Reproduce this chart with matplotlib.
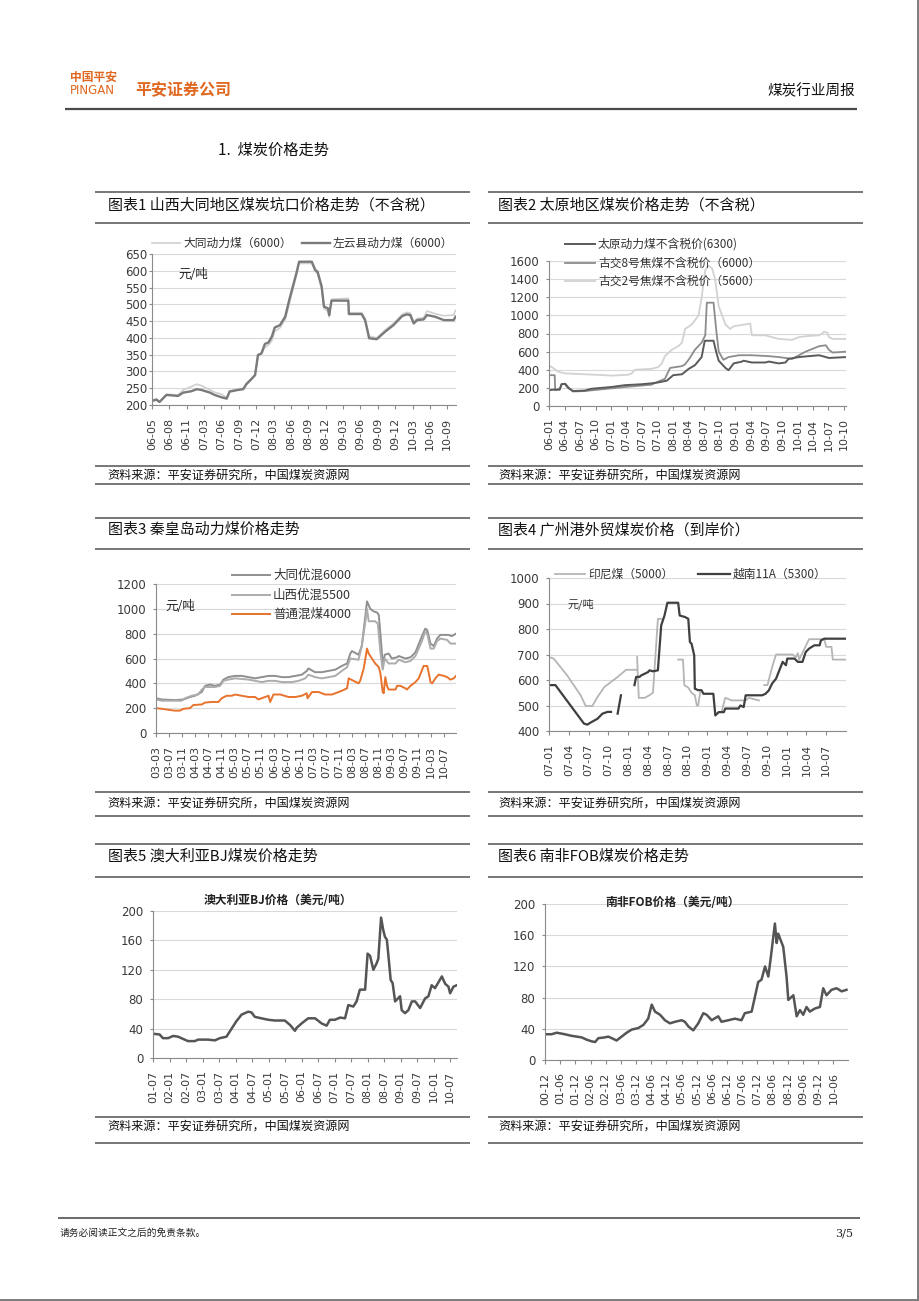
import numpy as np
import matplotlib
matplotlib.use("Agg")
import matplotlib.pyplot as plt

plt.rcParams['font.family'] = ['Noto Sans CJK SC', 'DejaVu Sans']

W, H = 920, 1301
ORANGE = '#e0671f'
RULE = '#5a5a5a'
AXC = '#8a8a8a'
TICKC = '#3a3a3a'

# ---------------- data (x = months from first tick) ----------------
# 图表1 山西大同
c1_x = [0, 0.75, 1.3, 2.5, 4.5, 5.4, 6.8, 7.7, 8.5, 10, 10.8, 12, 12.9, 13.4, 14.9, 15.75,
        16.3, 17.1, 17.8, 18.3, 18.9, 19.5, 20.1, 20.7, 21.2, 22.1, 23, 23.7, 24.4, 25, 25.4,
        27.6, 28.2, 28.6, 29.3, 29.7, 30.4, 30.6, 31, 33.9, 34, 36.2, 36.8, 37.5, 38.8, 40.3,
        41.7, 43.2, 44, 44.6, 45.2, 45.8, 46.9, 47.5, 48.9, 50.4, 52.1, 52.4]
c1_zuoyun = [212, 216, 209, 230, 227, 237, 241, 247, 245, 237, 230, 223, 219, 240, 245, 247,
             262, 276, 289, 349, 354, 382, 386, 404, 431, 438, 463, 513, 558, 597, 627,
             627, 602, 597, 553, 493, 488, 468, 511, 511, 471, 471, 453, 399, 396, 419,
             438, 465, 470, 468, 443, 453, 455, 468, 463, 453, 453, 463]
c1_datong = [214, 218, 210, 232, 230, 245, 255, 262, 258, 245, 238, 232, 222, 242, 248, 250,
             265, 276, 290, 345, 352, 372, 378, 392, 420, 430, 455, 500, 550, 590, 622,
             622, 598, 590, 545, 488, 478, 462, 515, 518, 475, 475, 458, 405, 400, 424,
             443, 470, 476, 474, 448, 458, 460, 480, 472, 466, 468, 482]
c1_ticks = ['06-05', '06-08', '06-11', '07-03', '07-06', '07-09', '07-12', '08-03', '08-06',
            '08-09', '08-12', '09-03', '09-06', '09-09', '09-12', '10-03', '10-06', '10-09']

# 图表2 太原
c2_dark_x = [0, 0.78, 2.07, 2.4, 3.04, 3.7, 4.65, 6.9, 8.2, 12.1, 14.7, 17.9, 19.8, 21.1, 22.8,
             24, 25.7, 27, 28.2, 29.5, 30.1, 31.8, 32.3, 32.8, 34.1, 34.7, 35.7, 37.3, 37.6,
             39.2, 41.8, 42.5, 44.4, 45.7, 46.3, 48.3, 50.2, 52.2, 53.5, 54.1, 57.5]
c2_taiyuan = [175, 180, 180, 240, 245, 200, 165, 170, 190, 210, 230, 240, 250, 260, 280,
              340, 350, 410, 450, 540, 720, 720, 600, 500, 420, 395, 470, 490, 500,
              480, 480, 490, 470, 480, 520, 540, 550, 560, 540, 530, 540]
c2_mid_x = [0, 1.1, 1.2, 2.07, 2.5, 3.2, 4, 4.65, 6.9, 12.1, 14.7, 19.8, 21.1, 22.4, 23.4,
            25.7, 26.3, 27.1, 28.2, 29.5, 30.2, 30.5, 31.8, 32.3, 32.8, 33.7, 34.7, 36.7,
            39.2, 42.5, 44.4, 45.7, 47, 48.3, 49.6, 50.9, 52.2, 53.5, 54.1, 54.8, 57.5]
c2_gujiao8 = [340, 340, 175, 190, 240, 245, 190, 160, 165, 195, 210, 235, 270, 300, 420,
              440, 460, 520, 620, 700, 780, 1140, 1140, 850, 600, 510, 540, 560,
              560, 550, 540, 530, 520, 560, 600, 630, 660, 670, 620, 590, 600]
c2_light_x = [0, 0.3, 1.75, 3.04, 6.9, 10.8, 12.1, 15.3, 16, 16.6, 19.8, 21.1, 21.8, 22.4,
              23.7, 25, 25.7, 26.3, 27.6, 28.9, 29.5, 30.2, 30.8, 31.5, 32.1, 32.8, 34.1,
              35, 35.7, 37.9, 38.9, 39.2, 41.8, 43.1, 44.4, 47, 48.3, 49.6, 52.2, 52.8,
              53.1, 53.8, 54.1, 54.8, 57.5]
c2_gujiao2 = [420, 440, 380, 360, 350, 340, 335, 345, 360, 400, 410, 430, 470, 550,
              620, 660, 700, 850, 900, 1000, 1200, 1500, 1550, 1520, 1400, 1100, 900,
              850, 880, 900, 910, 780, 780, 760, 740, 730, 760, 770, 780, 800,
              820, 810, 760, 740, 740]
c2_ticks = ['06-01', '06-04', '06-07', '06-10', '07-01', '07-04', '07-07', '07-10', '08-01',
            '08-04', '08-07', '08-10', '09-01', '09-04', '09-07', '09-10', '10-01', '10-04',
            '10-07', '10-10']

# 图表3 秦皇岛
c3_or_x = [0, 1.7, 4.3, 5.8, 7.3, 8.4, 10.4, 11.4, 14, 15, 17, 19.1, 19.6, 20.1, 21.6, 23.2,
           24.2, 26.2, 28.3, 30.3, 31.3, 32.3, 34.4, 34.9, 35.9, 38, 40.5, 42.6, 44.6, 46.1,
           46.3, 47.7, 49.7, 51.7, 53.8, 54.8, 56.8, 58.4, 58.9, 60.4, 61.9, 62.4, 63.5, 64.5,
           65, 66, 67, 68.1, 68.6, 69.3, 69.6, 70.1, 70.6, 71.1, 73.2, 73.7, 74.7, 76.2, 76.7,
           77.8, 79.3, 80.3, 81.8, 82.9, 83.4, 83.9, 84.4, 85.4, 86.4, 88, 89, 90, 91, 91.7]
c3_putong = [200, 195, 185, 180, 180, 195, 200, 225, 230, 245, 250, 250, 265, 280, 300, 300,
             310, 300, 290, 290, 270, 280, 300, 250, 310, 310, 290, 290, 300, 320,
             280, 330, 330, 310, 310, 320, 340, 360, 440, 420, 400, 420, 520, 680,
             640, 600, 560, 530, 480, 330, 320, 450, 380, 350, 350, 380, 380, 360, 350,
             380, 410, 440, 540, 540, 480, 410, 400, 440, 470, 460, 450, 430, 440, 460]
c3_g1_x = [0, 1.7, 5.8, 8.4, 10.4, 11.9, 14, 15, 16.5, 18, 19.6, 20.6, 22.1, 24.2, 26.2, 28.3,
           30.3, 32.3, 34.4, 36.4, 38.5, 40.5, 42.6, 44.6, 46.1, 46.6, 48.6, 50.7, 52.7, 54.8,
           56.8, 58.4, 59.4, 59.9, 61.9, 62.9, 63.8, 64.5, 65.5, 66.5, 67.6, 68.1, 68.9, 69.3,
           69.9, 71.1, 72.1, 73.7, 74.2, 76.2, 77.8, 79.3, 81.3, 82.3, 82.9, 83.9, 84.9, 85.9,
           86.9, 89.4, 90.4, 91.7]
c3_datong = [280, 270, 265, 270, 290, 300, 330, 380, 390, 380, 390, 430, 450, 460, 460, 450,
             440, 450, 460, 460, 450, 450, 460, 470, 500, 520, 490, 490, 500, 510,
             540, 560, 640, 660, 630, 700, 900, 1060, 1000, 980, 970, 950, 700, 540,
             630, 640, 600, 610, 620, 600, 610, 650, 780, 840, 830, 720, 700, 760,
             790, 790, 780, 800]
c3_g2_x = [0, 1.7, 7.8, 8.9, 10.9, 12.9, 14, 15, 18, 19.6, 20.6, 22.1, 24.2, 28.3, 30.3, 32.3,
           34.4, 36.4, 38.5, 41.5, 43.6, 45.6, 46.6, 48.6, 50.7, 54.8, 56.8, 58.4, 59.4, 61.9,
           62.9, 63.9, 64.5, 65, 67, 67.8, 68.6, 69.3, 69.9, 71.1, 73.2, 74.2, 76.2, 77.8,
           79.3, 81.3, 82.3, 82.9, 83.9, 84.9, 85.9, 86.9, 89, 90, 91.7]
c3_shanxi = [270, 260, 260, 280, 300, 310, 350, 370, 370, 380, 420, 430, 440, 430, 420, 410,
             420, 420, 410, 410, 420, 440, 470, 450, 440, 460, 500, 530, 600, 590,
             700, 880, 1000, 900, 900, 880, 650, 510, 600, 560, 560, 590, 570, 580,
             620, 740, 820, 800, 680, 680, 740, 760, 750, 720, 720]
c3_ticks = ['03-03', '03-07', '03-11', '04-03', '04-07', '04-11', '05-03', '05-07', '05-11',
            '06-03', '06-07', '06-11', '07-03', '07-07', '07-11', '08-03', '08-07', '08-11',
            '09-03', '09-07', '09-11', '10-03', '10-07']

# 图表4 广州港 (nan = 缺失)
nan = np.nan
c4_in_x = [0, 0.71, 2.75, 4.8, 5.56, 6.57, 7.34, 8.36, 10.4, 11.67, 13.2, 13.25,
           13.35, 13.6, 14.5, 15.2, 15.75, 16.5, 17, 17.1,
           19.57, 20.3, 20.5, 21.1, 21.6, 22.1, 22.4, 22.6, 22.9, 23.0,
           26.2, 26.7, 27.7, 29.8, 30.3, 31.8, 32.0,
           32.6, 33.1, 33.8, 34.4, 36.9, 37.4, 37.7, 37.9, 39.4, 41.7, 42, 42.8, 43, 45.2]
c4_indo = [690, 684, 618, 540, 498, 498, 533, 572, 612, 640, 640, nan,
           690, 530, 530, 540, 550, 840, 840, nan,
           680, 680, 580, 570, 550, 540, 500, 500, 550, nan,
           480, 530, 520, 520, 530, 520, nan,
           580, 580, 650, 700, 700, 690, 705, 680, 760, 760, 730, 730, 680, 680]
c4_vn_x = [0, 0.97, 5.3, 5.8, 6.3, 7.34, 8.1, 8.87, 9.4, 9.5,
           10.4, 10.9, 11.0,
           12.95, 13.2, 13.7, 13.97, 15, 15.24, 15.75, 16.5, 17, 17.5, 17.94, 19.57, 19.8,
           20.6, 21.1, 21.35, 21.6, 22, 22.1, 22.6, 23.1, 23.4, 24.9, 25.2, 25.7, 26.5, 26.7,
           28.7, 29, 29.5, 29.8, 32.3, 32.8, 33.3, 33.8, 34.4, 34.9, 35.4, 35.9, 36.1, 37.2,
           37.7, 38.4, 38.9, 39.4, 40.2, 41, 41.2, 41.7, 45.2]
c4_vietnam = [580, 580, 429, 425, 433, 448, 468, 475, 475, nan,
              468, 540, nan,
              580, 612, 612, 618, 631, 638, 634, 638, 814, 853, 903, 903, 853,
              847, 840, 749, 742, 697, 566, 560, 560, 546, 546, 461, 474, 474, 488,
              488, 500, 494, 540, 540, 546, 559, 586, 605, 638, 671, 658, 684, 684,
              671, 671, 710, 723, 736, 736, 755, 762, 762]
c4_ticks = ['07-01', '07-04', '07-07', '07-10', '08-01', '08-04', '08-07', '08-10', '09-01',
            '09-04', '09-07', '09-10', '10-01', '10-04', '10-07']

# 图表5 澳大利亚BJ
c5_x = [0, 2.4, 3.6, 5.5, 7.3, 9.1, 11.5, 12.7, 15.2, 16.4, 20, 22.5, 24.3, 26.7, 27.9, 29.1,
        30.3, 32.2, 34.6, 35.8, 37, 39.4, 41.9, 44.3, 47.9, 49.8, 51.6, 52.2, 54, 56.4, 58.9,
        61.3, 63.1, 64.3, 66.1, 68, 69.8, 71, 72.8, 74, 75.2, 77.1, 78, 78.9, 80.1, 81.3,
        81.9, 82.9, 83.7, 84.3, 85, 85.6, 86.4, 87.1, 88, 89.8, 90.4, 91.6, 92.8, 94.1, 95.3,
        97.1, 98.9, 100.1, 101.3, 102.5, 105, 106.2, 107.4, 108, 109.2, 110.4]
c5_bj = [33, 32, 27, 27, 30, 29, 25, 23, 23, 25, 25, 24, 27, 29, 36, 43,
         50, 59, 63, 62, 56, 54, 52, 51, 51, 45, 37, 41, 47, 54, 54,
         47, 44, 52, 52, 55, 54, 72, 70, 77, 93, 93, 142, 139, 120, 129,
         135, 191, 174, 165, 161, 138, 106, 102, 77, 84, 65, 61, 65, 77, 77,
         68, 81, 84, 99, 95, 111, 101, 97, 88, 97, 99]
c5_ticks = ['01-07', '02-01', '02-07', '03-01', '03-07', '04-01', '04-07', '05-01', '05-07',
            '06-01', '06-07', '07-01', '07-07', '08-01', '08-07', '09-01', '09-07', '10-01',
            '10-07']

# 图表6 南非FOB
c6_x = [0, 2.6, 4.6, 7.9, 10.5, 14.5, 16.5, 18.4, 19.8, 21.1, 23.7, 25, 26.4, 28.3, 30.3, 32.3,
        34.3, 36.9, 38.9, 40.8, 42.2, 43.5, 45.5, 47.4, 49.4, 51.4, 54, 55.3, 56.7, 58.6,
        60.6, 62.6, 63.9, 65.9, 68.5, 69.8, 72.5, 75.1, 77.7, 79, 81.7, 83, 84.3, 85.6, 87,
        88.3, 89.3, 90.9, 91.6, 92.2, 94.2, 95.5, 96.2, 98.2, 99.5, 100.8, 102.1, 103.4,
        104.7, 106.7, 108.7, 110, 111.3, 113.3, 115.3, 117.3, 119.2]
c6_fob = [33, 33, 35, 33, 31, 29, 26, 24, 23, 28, 29, 30, 28, 25, 30, 35,
          39, 41, 45, 53, 71, 62, 58, 51, 47, 49, 51, 49, 43, 38,
          47, 60, 58, 51, 56, 49, 51, 53, 51, 60, 62, 81, 100, 103, 120,
          107, 132, 175, 150, 162, 145, 107, 77, 83, 56, 64, 58, 68,
          62, 66, 68, 92, 83, 90, 92, 88, 90]
c6_ticks = ['00-12', '01-06', '01-12', '02-06', '02-12', '03-06', '03-12', '04-06', '04-12',
            '05-06', '05-12', '06-06', '06-12', '07-06', '07-12', '08-06', '08-12', '09-06',
            '09-12', '10-06']

# ---------------- figure ----------------
fig = plt.figure(figsize=(W / 100, H / 100), dpi=100)
fig.patch.set_facecolor('white')


def chart_axes(left, top, right, bottom, ylim, ystep, xmax, step, labels, ypad=4.5):
    ax = fig.add_axes([left / W, 1 - bottom / H, (right - left) / W, (bottom - top) / H])
    ax.set_facecolor('none')
    ax.set_xlim(0, xmax)
    ax.set_ylim(*ylim)
    ax.set_yticks(np.arange(ylim[0], ylim[1] + 1, ystep))
    ax.set_xticks(np.arange(len(labels)) * step)
    ax.set_xticklabels(labels, rotation=90, fontsize=8, color=TICKC, family='DejaVu Sans')
    for lab in ax.get_yticklabels():
        lab.set_fontsize(8.5)
        lab.set_color(TICKC)
        lab.set_family('DejaVu Sans')
    ax.grid(axis='y', color='#d9d9d9', lw=0.8)
    ax.set_axisbelow(True)
    for s in ('top', 'right'):
        ax.spines[s].set_visible(False)
    for s in ('left', 'bottom'):
        ax.spines[s].set_color(AXC)
        ax.spines[s].set_linewidth(0.8)
    ax.tick_params(axis='x', direction='out', length=3, width=0.8, color=AXC, pad=6)
    ax.tick_params(axis='y', direction='out', length=2.5, width=0.8, color=AXC, pad=ypad)
    return ax


# 图表1
ax1 = chart_axes(152, 254, 456, 405, (200, 650), 50, 52.5, 3, c1_ticks, ypad=1)
l1a, = ax1.plot(c1_x, c1_datong, color='#cfcfcf', lw=1.2)
l1b, = ax1.plot(c1_x, c1_zuoyun, color='#7a7a7a', lw=1.7)

# 图表2
ax2 = chart_axes(549, 261, 846, 406, (0, 1600), 200, 57.4, 3, c2_ticks)
l2c, = ax2.plot(c2_light_x, c2_gujiao2, color='#d2d2d2', lw=1.3)
l2b, = ax2.plot(c2_mid_x, c2_gujiao8, color='#8c8c8c', lw=1.3)
l2a, = ax2.plot(c2_dark_x, c2_taiyuan, color='#5a5a5a', lw=1.4)

# 图表3
ax3 = chart_axes(156, 584, 456, 733, (0, 1200), 200, 91.7, 4, c3_ticks)
l3a, = ax3.plot(c3_g1_x, c3_datong, color='#8f8f8f', lw=1.4)
l3b, = ax3.plot(c3_g2_x, c3_shanxi, color='#acacac', lw=1.4)
l3c, = ax3.plot(c3_or_x, c3_putong, color='#e8732c', lw=1.4)

# 图表4
ax4 = chart_axes(549, 578, 846, 731, (400, 1000), 100, 45, 3, c4_ticks)
l4a, = ax4.plot(c4_in_x, c4_indo, color='#b5b5b5', lw=1.3)
l4b, = ax4.plot(c4_vn_x, c4_vietnam, color='#3f3f3f', lw=1.6)

# 图表5
ax5 = chart_axes(153, 911, 457, 1058, (0, 200), 40, 110.5, 6, c5_ticks)
ax5.plot(c5_x, c5_bj, color='#555555', lw=1.8)

# 图表6
ax6 = chart_axes(545, 904, 848, 1060, (0, 200), 40, 119.8, 6, c6_ticks)
ax6.plot(c6_x, c6_fob, color='#555555', lw=1.8)

# ---------------- page overlay (pixel coords) ----------------
ov = fig.add_axes([0, 0, 1, 1], zorder=10)
ov.set_xlim(0, W)
ov.set_ylim(H, 0)
ov.axis('off')
ov.set_facecolor('none')


def hline(y, x0, x1, lw=1.6, color=RULE):
    ov.plot([x0, x1], [y, y], color=color, lw=lw * 0.72, solid_capstyle='butt')


def txt(x, y, s, size, **kw):
    kw.setdefault('va', 'center')
    kw.setdefault('ha', 'left')
    ov.text(x, y, s, fontsize=size, **kw)


def legend_item(x0, x1, y, line, label, size=8.5):
    ov.plot([x0, x1], [y, y], color=line.get_color(), lw=line.get_linewidth())
    txt(x1 + 3, y, label, size, color='#333333')


# header
txt(70, 77, '中国平安', 8.5, color=ORANGE, fontweight='bold')
txt(70, 91, 'PINGAN', 8.5, color=ORANGE, family=['DejaVu Sans'])
txt(135, 90, '平安证券公司', 11.5, color=ORANGE, fontweight='bold')
txt(855, 91, '煤炭行业周报', 10.5, ha='right', color='#111111')
hline(109, 65, 857, lw=2.2, color='#4a4a4a')
txt(218, 150, '1.  煤炭价格走势', 11, color='#111111')

# panel frames
for x0, x1 in ((95, 470), (488, 863)):
    for y in (192, 223, 466, 484, 518, 549, 792, 816, 844, 877, 1117, 1143):
        hline(y, x0, x1)

titles = [(108, 205, '图表1 山西大同地区煤炭坑口价格走势（不含税）'),
          (498, 205, '图表2 太原地区煤炭价格走势（不含税）'),
          (108, 530, '图表3 秦皇岛动力煤价格走势'),
          (498, 530, '图表4 广州港外贸煤炭价格（到岸价）'),
          (108, 857, '图表5 澳大利亚BJ煤炭价格走势'),
          (498, 857, '图表6 南非FOB煤炭价格走势')]
for x, y, s in titles:
    txt(x, y, s, 10.8, color='#111111')

src = '资料来源：平安证券研究所，中国煤炭资源网'
for x, y in ((107, 475), (498, 475), (107, 803), (498, 803), (107, 1126), (498, 1126)):
    txt(x, y, src, 8.7, color='#111111')

# legends & units
legend_item(152, 180, 243, l1a, '大同动力煤（6000）')
legend_item(302, 330, 243, l1b, '左云县动力煤（6000）')
txt(178, 275, '元/吨', 9, color='#222222')

legend_item(565, 595, 244, l2a, '太原动力煤不含税价(6300)')
legend_item(565, 595, 263, l2b, '古交8号焦煤不含税价（6000）')
legend_item(565, 595, 281, l2c, '古交2号焦煤不含税价（5600）')

legend_item(232, 270, 575, l3a, '大同优混6000', size=9)
legend_item(232, 270, 595, l3b, '山西优混5500', size=9)
legend_item(232, 270, 614, l3c, '普通混煤4000', size=9)
txt(165, 607, '元/吨', 9, color='#222222')

legend_item(555, 585, 574, l4a, '印尼煤（5000）')
legend_item(698, 730, 574, l4b, '越南11A（5300）')
txt(568, 604, '元/吨', 8, color='#333333')

txt(278, 901, '澳大利亚BJ价格（美元/吨）', 8.5, ha='center', fontweight='bold', color='#222222')
txt(673, 903, '南非FOB价格（美元/吨）', 8.5, ha='center', fontweight='bold', color='#222222')

# footer
hline(1218, 58, 860, lw=1.6, color='#4a4a4a')
txt(60, 1233, '请务必阅读正文之后的免责条款。', 7, color='#222222')
txt(853, 1233, '3/5', 8, ha='right', color='#222222', family=['DejaVu Serif'])

# page border (right / bottom)
ov.plot([918.5, 918.5], [0, H], color='#808080', lw=3 * 0.72)
ov.plot([0, W], [1299.5, 1299.5], color='#808080', lw=3 * 0.72)

fig.savefig('out.png', dpi=100)
